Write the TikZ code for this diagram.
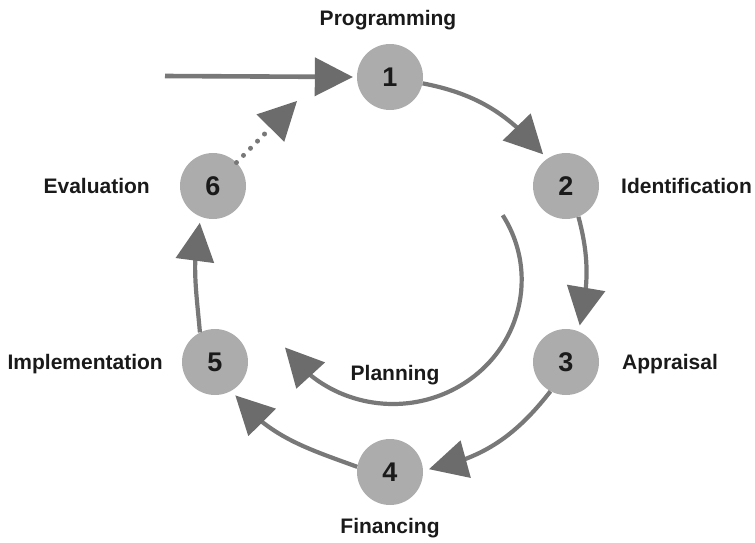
\documentclass[tikz,border=0pt]{standalone}
\usepackage{fontspec}
\setmainfont{Liberation Sans}
\usetikzlibrary{arrows.meta,bending}
\definecolor{discgray}{RGB}{172,172,172}
\definecolor{linegray}{RGB}{120,120,120}
\definecolor{headgray}{RGB}{108,108,108}
\definecolor{textgray}{RGB}{26,26,26}
\begin{document}
\begin{tikzpicture}[x=1pt,y=1pt,
		stage/.style={shape=circle,fill=discgray,minimum size=66pt,inner sep=0pt,text=textgray,font=\fontsize{27}{30}\selectfont\bfseries},
		lbl/.style={inner sep=0pt,text=textgray,font=\fontsize{21}{25}\selectfont\bfseries},
		flow/.style={draw=linegray,line width=4.2pt,-{Triangle[length=38pt,width=39pt,line width=0pt,color=headgray]}}]
		    	\useasboundingbox (0,0) rectangle (755,-542);
		    	\node[stage] (PA) at (390,-77) {1};
		    	\node[stage] (PB) at (566,-186) {2};
		    	\node[stage] (PC) at (566,-362) {3};
		    	\node[stage] (PD) at (390,-472) {4};
		    	\node[stage] (PE) at (215,-362) {5};
		    	\node[stage] (PF) at (213,-186) {6};
		    	
		    	\node[lbl,anchor=base] (LA) at (388,-25) {Programming};
		    	\node[lbl,anchor=base west] (LB) at (621,-193) {Identification};
		    	\node[lbl,anchor=base west] (LC) at (622,-369) {Appraisal};
		    	\node[lbl,anchor=base] (LD) at (390,-533) {Financing};
		    	\node[lbl,anchor=base east] (LE) at (163,-369) {Implementation};
		    	\node[lbl,anchor=base east] (LF) at (150,-193) {Evaluation};
		    	\node[lbl,anchor=base] (LP) at (395,-380) {Planning};
		    	
		    	\coordinate (EN) at (165,-76);
		    	\coordinate (FT) at (297,-101);
		    	\coordinate (PL) at (502.7,-215.2);
		    	
		    	\draw[flow,line width=4.6pt,shorten >=4pt] (EN)--(PA.west);
		    	\draw[flow,shorten >=6pt] (PA.-11) to[out=-11,in=130] (PB.125);
		    	\draw[flow,shorten >=6pt] (PB.-68) to[out=-75,in=77] (PC.68);
		    	\draw[flow,shorten >=6pt] (PC.-118) to[out=-128,in=10] (PD.3);
		    	\draw[flow,shorten >=6pt] (PD.171) to[out=160,in=-52] (PE.-60);
		    	\draw[flow,shorten >=6pt] (PE.117) to[out=95,in=-103] (PF.-111);
		    	\draw[flow,line width=5pt,line cap=round,dash pattern=on 0pt off 10pt] (PF.45)--(FT);
		    	\draw[flow] (PL) arc[start angle=31.5,end angle=-147,x radius=128.7,y radius=124];
		    \end{tikzpicture}
\end{document}
